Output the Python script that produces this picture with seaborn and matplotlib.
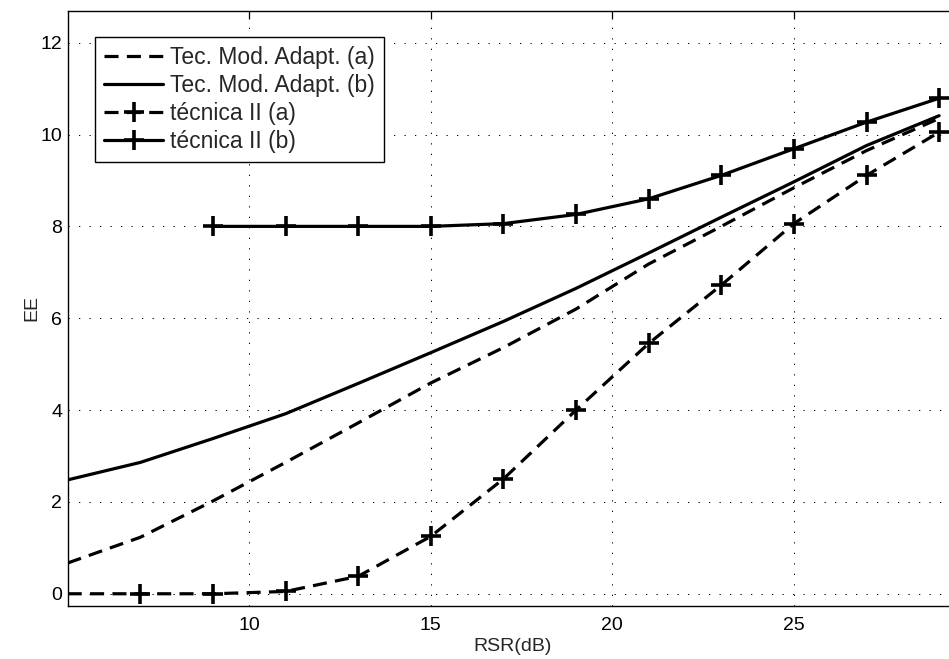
import matplotlib
matplotlib.use("Agg")
import matplotlib.pyplot as plt
import seaborn as sns
import numpy as np
import pandas as pd

# ---- data ----
rsr_full = [5, 7, 9, 11, 13, 15, 17, 19, 21, 23, 25, 27, 29]
tma_a = [0.67, 1.23, 2.02, 2.86, 3.72, 4.59, 5.36, 6.2, 7.18, 8.0, 8.84, 9.65, 10.35]
tma_b = [2.48, 2.86, 3.38, 3.92, 4.58, 5.25, 5.93, 6.65, 7.42, 8.2, 8.97, 9.76, 10.41]
tec2_a = [0.0, 0.0, 0.0, 0.05, 0.38, 1.25, 2.5, 4.0, 5.45, 6.72, 8.06, 9.11, 10.05]
rsr_b = [9, 11, 13, 15, 17, 19, 21, 23, 25, 27, 29]
tec2_b = [8.0, 8.0, 8.0, 8.0, 8.06, 8.26, 8.6, 9.11, 9.69, 10.27, 10.79]

labels = ["Tec. Mod. Adapt. (a)", "Tec. Mod. Adapt. (b)", "técnica II (a)", "técnica II (b)"]
xticks = [10, 15, 20, 25]
yticks = [0, 2, 4, 6, 8, 10, 12]

sns.set_style("white")
plt.rcParams["font.family"] = ["Liberation Sans", "DejaVu Sans"]

W, H = 949, 659
fig = plt.figure(figsize=(W / 100, H / 100), dpi=100)
left, right, top, bottom = 67.7, 958.0, 11.0, 605.7
ax = fig.add_axes([left / W, (H - bottom) / H, (right - left) / W, (bottom - top) / H])

lw = 2.3
dash = (4.4, 2.6)
mk = dict(marker="+", markersize=14, mew=2.6, mec="black", mfc="black")

sns.lineplot(x=rsr_full, y=tma_a, ax=ax, color="black", lw=lw, label=labels[0])
ax.lines[-1].set_dashes(dash)
sns.lineplot(x=rsr_full, y=tma_b, ax=ax, color="black", lw=lw, label=labels[1])
sns.lineplot(x=rsr_full, y=tec2_a, ax=ax, color="black", lw=lw, label=labels[2],
             markevery=list(range(1, len(rsr_full))), **mk)
ax.lines[-1].set_dashes(dash)
sns.lineplot(x=rsr_b, y=tec2_b, ax=ax, color="black", lw=lw, label=labels[3], **mk)

ax.set_xlim(5, 29.52)
ax.set_ylim(-0.26, 12.69)
ax.set_xticks(xticks)
ax.set_yticks(yticks)
ax.set_xticklabels([str(t) for t in xticks])
ax.set_yticklabels([str(t) for t in yticks])

ax.grid(True, color="black", lw=0.7, linestyle=(0, (1.3, 9.5)))
ax.set_axisbelow(True)
for s in ax.spines.values():
    s.set_color("black")
    s.set_linewidth(1.0)
    s.set_visible(True)

ax.tick_params(axis="both", which="both", direction="in", top=True, right=True,
               length=6, width=0.9, colors="black", labelsize=14)
ax.tick_params(axis="x", pad=8)
ax.tick_params(axis="y", pad=4)

ax.set_xlabel("RSR(dB)", fontsize=14, labelpad=3)
ax.set_ylabel("EE", fontsize=14, labelpad=0)

leg = ax.legend(loc="upper left", bbox_to_anchor=(95 / W, 1 - 37 / H),
                bbox_transform=fig.transFigure, borderaxespad=0,
                fontsize=16.5, frameon=True, fancybox=False, framealpha=1,
                edgecolor="black", handlelength=2.6, handletextpad=0.3,
                labelspacing=0.22, borderpad=0.38)
leg.get_frame().set_linewidth(1.0)
for h in leg.get_lines():
    h.set_linewidth(lw)
    h.set_markeredgecolor("black")

fig.savefig("out.png", dpi=100)
